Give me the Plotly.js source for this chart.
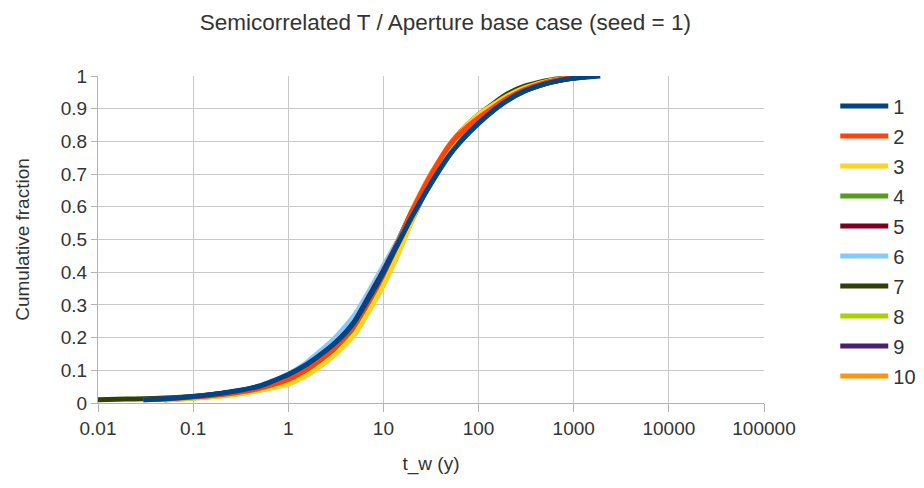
<!DOCTYPE html>
<html>
<head>
<meta charset="utf-8">
<script src="https://cdn.plot.ly/plotly-3.0.1.min.js"></script>
<style>html,body{margin:0;padding:0;background:#fff;}#chart{width:924px;height:488px;}</style>
</head>
<body>
<div id="chart"></div>
<script>
// shared time grid t_w (y)
var tw = [0.01, 0.02, 0.03, 0.05, 0.1, 0.2, 0.3, 0.5, 0.7, 1, 1.5, 2, 3, 4, 5, 7, 10, 15, 20, 30, 50, 70, 100, 150, 200, 300, 500, 700, 1000, 1500, 1900];

var seriesNames = ["1","2","3","4","5","6","7","8","9","10"];
var seriesColors = ["#004586","#ff420e","#ffd320","#579d1c","#7e0021","#83caff","#314004","#aecf00","#4b1f6f","#ff950e"];

var s1  = [null, null, 0.010, 0.013, 0.020, 0.030, 0.038, 0.052, 0.068, 0.087, 0.115, 0.140, 0.180, 0.215, 0.250, 0.320, 0.400, 0.500, 0.570, 0.660, 0.760, 0.810, 0.855, 0.899, 0.925, 0.953, 0.976, 0.986, 0.993, 0.998, 1.000];
var s2  = [null, null, 0.010, 0.012, 0.018, 0.026, 0.033, 0.045, 0.057, 0.072, 0.100, 0.125, 0.165, 0.205, 0.240, 0.310, 0.395, 0.505, 0.585, 0.685, 0.790, 0.835, 0.872, 0.908, 0.932, 0.958, 0.980, 0.989, 0.996, 1.000, null];
var s3  = [null, null, null, 0.009, 0.015, 0.022, 0.028, 0.040, 0.048, 0.058, 0.082, 0.105, 0.145, 0.180, 0.210, 0.280, 0.360, 0.470, 0.560, 0.670, 0.780, 0.840, 0.882, 0.916, 0.939, 0.963, 0.982, 0.990, 0.996, 1.000, null];
var s4  = [null, null, null, 0.010, 0.016, 0.024, 0.030, 0.043, 0.053, 0.065, 0.090, 0.115, 0.155, 0.190, 0.220, 0.290, 0.370, 0.480, 0.560, 0.665, 0.770, 0.828, 0.870, 0.907, 0.932, 0.958, 0.979, 0.988, 0.995, 1.000, null];
var s5  = [null, null, null, 0.012, 0.019, 0.029, 0.036, 0.050, 0.065, 0.083, 0.112, 0.137, 0.178, 0.215, 0.250, 0.325, 0.405, 0.505, 0.575, 0.665, 0.765, 0.815, 0.860, 0.902, 0.928, 0.955, 0.977, 0.987, 0.994, 1.000, null];
var s6  = [null, null, null, 0.012, 0.019, 0.029, 0.037, 0.052, 0.068, 0.088, 0.120, 0.150, 0.195, 0.235, 0.270, 0.340, 0.420, 0.510, 0.580, 0.670, 0.770, 0.820, 0.865, 0.905, 0.930, 0.957, 0.978, 0.988, 0.995, 1.000, null];
var s7  = [0.010, 0.012, 0.013, 0.015, 0.020, 0.029, 0.036, 0.050, 0.064, 0.082, 0.110, 0.135, 0.175, 0.212, 0.248, 0.320, 0.405, 0.510, 0.585, 0.680, 0.785, 0.840, 0.882, 0.920, 0.945, 0.968, 0.985, 0.992, 0.997, 1.000, null];
var s8  = [null, null, null, 0.009, 0.015, 0.022, 0.028, 0.039, 0.048, 0.060, 0.084, 0.107, 0.148, 0.182, 0.212, 0.282, 0.365, 0.475, 0.560, 0.670, 0.778, 0.836, 0.878, 0.913, 0.938, 0.961, 0.980, 0.989, 0.996, 1.000, null];
var s9  = [null, null, null, 0.012, 0.019, 0.029, 0.037, 0.051, 0.066, 0.085, 0.113, 0.138, 0.178, 0.214, 0.250, 0.322, 0.402, 0.502, 0.572, 0.662, 0.762, 0.812, 0.857, 0.900, 0.926, 0.954, 0.976, 0.986, 0.994, 0.999, null];
var s10 = [null, null, null, 0.010, 0.017, 0.026, 0.033, 0.046, 0.058, 0.074, 0.102, 0.128, 0.168, 0.205, 0.240, 0.312, 0.398, 0.510, 0.590, 0.690, 0.792, 0.840, 0.876, 0.910, 0.934, 0.959, 0.980, 0.989, 0.996, 1.000, null];

var allSeries = [s1, s2, s3, s4, s5, s6, s7, s8, s9, s10];

var xTickVals = [0.01, 0.1, 1, 10, 100, 1000, 10000, 100000];
var xTickText = ["0.01", "0.1", "1", "10", "100", "1000", "10000", "100000"];
var yTickVals = [0, 0.1, 0.2, 0.3, 0.4, 0.5, 0.6, 0.7, 0.8, 0.9, 1];
var yTickText = ["0", "0.1", "0.2", "0.3", "0.4", "0.5", "0.6", "0.7", "0.8", "0.9", "1"];

var traces = [];
for (var i = allSeries.length - 1; i >= 0; i--) {
  traces.push({
    x: tw,
    y: allSeries[i],
    type: "scatter",
    mode: "lines",
    name: seriesNames[i],
    legendgroup: "g" + i,
    legendrank: i + 1,
    line: {color: seriesColors[i], width: 5, shape: "spline", smoothing: 0.6},
    connectgaps: false,
    cliponaxis: false
  });
}

var layout = {
  width: 924,
  height: 488,
  paper_bgcolor: "#ffffff",
  plot_bgcolor: "#ffffff",
  font: {family: "Liberation Sans, Arial, sans-serif", color: "#333333", size: 19},
  title: {text: "Semicorrelated T / Aperture base case (seed = 1)", font: {size: 22.5, color: "#333333"}, x: 0.482, xanchor: "center", y: 0.955, yanchor: "middle"},
  margin: {l: 98, r: 160, t: 76, b: 85, autoexpand: false},
  showlegend: true,
  legend: {
    x: 1.107, xanchor: "left", y: 0.968, yanchor: "top",
    traceorder: "grouped",
    tracegroupgap: 1,
    itemwidth: 48,
    font: {size: 20, color: "#333333"},
    bgcolor: "rgba(0,0,0,0)"
  },
  xaxis: {
    type: "log",
    range: [-2, 5],
    tickvals: xTickVals,
    ticktext: xTickText,
    showgrid: true,
    gridcolor: "#c8c8c8",
    gridwidth: 1,
    showline: true,
    linecolor: "#b3b3b3",
    linewidth: 1,
    ticks: "outside",
    ticklen: 8,
    tickcolor: "#b3b3b3",
    zeroline: false,
    tickfont: {size: 19, color: "#333333"},
    title: {text: "t_w (y)", font: {size: 19, color: "#333333"}, standoff: 18}
  },
  yaxis: {
    range: [0, 1],
    tickvals: yTickVals,
    ticktext: yTickText,
    showgrid: true,
    gridcolor: "#c8c8c8",
    gridwidth: 1,
    showline: true,
    linecolor: "#b3b3b3",
    linewidth: 1,
    ticks: "outside",
    ticklen: 6,
    tickcolor: "#b3b3b3",
    zeroline: false,
    tickfont: {size: 19, color: "#333333"},
    title: {text: "Cumulative fraction", font: {size: 19, color: "#333333"}, standoff: 26}
  }
};

Plotly.newPlot("chart", traces, layout, {displayModeBar: false, staticPlot: true});
</script>
</body>
</html>
